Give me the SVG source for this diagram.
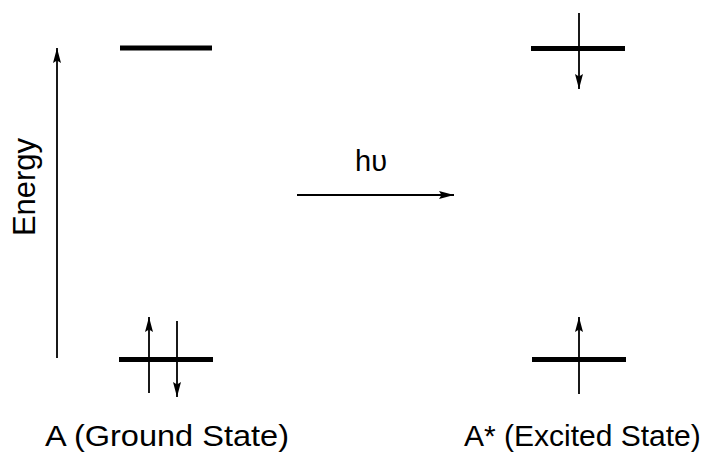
<svg xmlns="http://www.w3.org/2000/svg" width="710" height="464" viewBox="0 0 710 464">
<style>
.lvl{stroke:#000;stroke-width:5;fill:none}
.ln{stroke:#000;stroke-width:1.8;fill:none}
.t{font-family:"Liberation Sans",Arial,sans-serif;fill:#000}
</style>
<defs>
<marker id="ah" markerUnits="userSpaceOnUse" markerWidth="17" markerHeight="9" refX="15" refY="4.5" orient="auto">
<path d="M0,0.5 L15,4.5 L0,8.5 L2.5,4.5 z" fill="#000"/>
</marker>
</defs>
<rect width="710" height="464" fill="#fff"/>
<g id="axis">
<line class="ln" x1="57" y1="358" x2="57" y2="48" marker-end="url(#ah)"/>
<text class="t" font-size="31" text-anchor="middle" transform="translate(35,187) rotate(-90)">Energy</text>
</g>
<g id="ground-upper"><line class="lvl" x1="120" y1="48" x2="212" y2="48"/></g>
<g id="ground-lower"><line class="lvl" x1="119" y1="359.5" x2="213" y2="359.5"/></g>
<g id="excited-upper"><line class="lvl" x1="531" y1="48.5" x2="625" y2="48.5"/></g>
<g id="excited-lower"><line class="lvl" x1="532" y1="359.5" x2="626" y2="359.5"/></g>
<g id="label-ground"><text class="t" font-size="30" x="45" y="446" textLength="244" lengthAdjust="spacingAndGlyphs">A (Ground State)</text></g>
<g id="label-excited"><text class="t" font-size="30" x="464" y="446">A* (Excited State)</text></g>
<g id="photon"><text class="t" font-size="29" x="371" y="171" text-anchor="middle">hυ</text></g>
<g id="connectors">
<line class="ln" x1="149" y1="393" x2="149" y2="317" marker-end="url(#ah)"/>
<line class="ln" x1="177" y1="321" x2="177" y2="397" marker-end="url(#ah)"/>
<line class="ln" x1="579" y1="394" x2="579" y2="317" marker-end="url(#ah)"/>
<line class="ln" x1="579" y1="13" x2="579" y2="89" marker-end="url(#ah)"/>
<line class="ln" x1="297" y1="195" x2="454" y2="195" marker-end="url(#ah)"/>
</g>
</svg>
